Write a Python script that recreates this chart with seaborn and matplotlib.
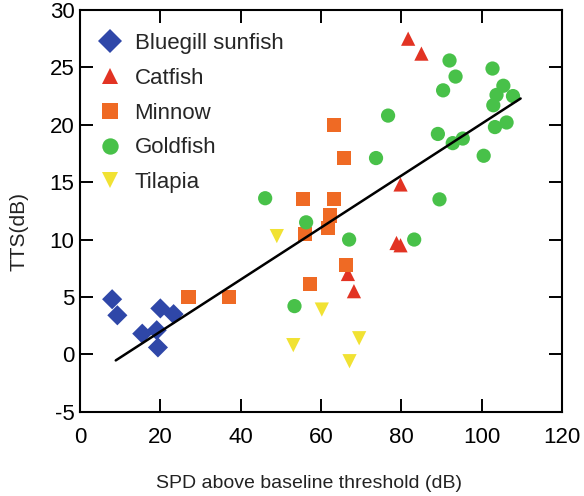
import numpy as np
import pandas as pd
import matplotlib
matplotlib.use("Agg")
import matplotlib.pyplot as plt
import seaborn as sns

# Species measurements: SPD above baseline threshold (dB) vs. TTS (dB)
species = ["Bluegill sunfish", "Catfish", "Minnow", "Goldfish", "Tilapia"]

bluegill_x = [8.0, 9.3, 20.0, 23.3, 15.5, 19.1, 19.4]
bluegill_y = [4.8, 3.4, 4.0, 3.5, 1.8, 2.1, 0.6]

catfish_x = [81.7, 85.0, 79.8, 78.8, 79.8, 66.7, 68.2]
catfish_y = [27.5, 26.2, 14.8, 9.7, 9.5, 7.0, 5.5]

minnow_x = [27.0, 37.1, 63.2, 65.7, 55.6, 63.2, 62.2, 61.8, 56.1, 66.3, 57.2]
minnow_y = [5.0, 5.0, 20.0, 17.1, 13.5, 13.5, 12.1, 11.0, 10.5, 7.8, 6.1]

goldfish_x = [46.1, 56.3, 67.0, 53.4, 73.7, 76.7, 83.2, 89.1, 89.5, 90.4, 92.0,
              92.8, 93.5, 95.3, 100.5, 102.7, 102.9, 103.3, 103.7, 105.4, 106.2, 107.8]
goldfish_y = [13.6, 11.5, 10.0, 4.2, 17.1, 20.8, 10.0, 19.2, 13.5, 23.0, 25.6,
              18.4, 24.2, 18.8, 17.3, 24.9, 21.7, 19.8, 22.6, 23.4, 20.2, 22.5]

tilapia_x = [49.0, 60.2, 53.1, 69.5, 67.1]
tilapia_y = [10.3, 3.9, 0.8, 1.4, -0.6]

# x extent of the drawn trend line
fit_range = [8.9, 109.7]

x_ticks = [0, 20, 40, 60, 80, 100, 120]
y_ticks = [-5, 0, 5, 10, 15, 20, 25, 30]

frames = []
for name, xs, ys in [
    ("Bluegill sunfish", bluegill_x, bluegill_y),
    ("Catfish", catfish_x, catfish_y),
    ("Minnow", minnow_x, minnow_y),
    ("Goldfish", goldfish_x, goldfish_y),
    ("Tilapia", tilapia_x, tilapia_y),
]:
    frames.append(pd.DataFrame({"spd": xs, "tts": ys, "species": name}))
df = pd.concat(frames, ignore_index=True)

palette = {
    "Bluegill sunfish": "#2f47a8",
    "Catfish": "#e23323",
    "Minnow": "#ef6a24",
    "Goldfish": "#48c149",
    "Tilapia": "#f1e233",
}
markers = {
    "Bluegill sunfish": "D",
    "Catfish": "^",
    "Minnow": "s",
    "Goldfish": "o",
    "Tilapia": "v",
}

sns.set_theme(style="ticks")
plt.rcParams["font.family"] = ["Liberation Sans", "DejaVu Sans"]
plt.rcParams["axes.unicode_minus"] = False

fig = plt.figure(figsize=(5.84, 4.96), dpi=100)
ax = fig.add_axes([80 / 584, 1 - 411.7 / 496, 482 / 584, 401.7 / 496])

sns.scatterplot(
    data=df, x="spd", y="tts", hue="species", style="species",
    hue_order=species, style_order=species,
    palette=palette, markers=markers, s=105, linewidth=0, alpha=1,
    ax=ax, zorder=3,
)

# Least-squares fit through all species
slope, intercept = np.polyfit(df["spd"], df["tts"], 1)
line_x = np.array(fit_range)
sns.lineplot(x=line_x, y=slope * line_x + intercept, color="black",
             linewidth=1.8, zorder=4, ax=ax)

ax.set_xlim(0, 120)
ax.set_ylim(-5, 30)
ax.set_xticks(x_ticks)
ax.set_yticks(y_ticks)
ax.tick_params(direction="in", length=9.5, width=1.4, labelsize=16,
               top=True, right=True, color="black", labelcolor="black")
ax.tick_params(axis="x", pad=11)
ax.tick_params(axis="y", pad=4)
for sp in ax.spines.values():
    sp.set_visible(True)
    sp.set_linewidth(1.5)
    sp.set_color("black")

ax.set_xlabel("SPD above baseline threshold (dB)", fontsize=14, color="#222222")
ax.set_ylabel("TTS(dB)", fontsize=15, color="#222222")
ax.xaxis.set_label_coords(0.4755, -0.1775)
ax.xaxis.label.set_va("center")
ax.yaxis.set_label_coords(-0.1266, 0.4486)
ax.yaxis.label.set_va("center")

handles, labels = ax.get_legend_handles_labels()
handles, labels = handles[:len(species)], labels[:len(species)]
ax.legend(
    handles, labels, loc="upper left", bbox_to_anchor=(0.0394, 0.9425),
    frameon=False, fontsize=16, borderpad=0, borderaxespad=0,
    handlelength=1.0, handletextpad=0.6, labelspacing=0.62, markerscale=1.15,
)

fig.savefig("out.png", dpi=100)
